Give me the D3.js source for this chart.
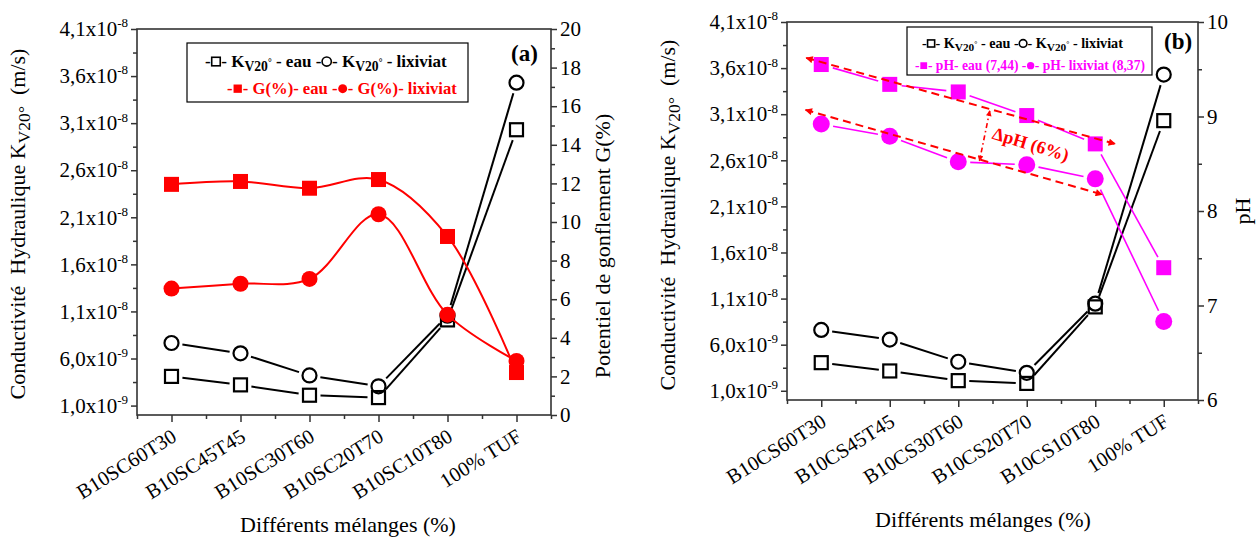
<!DOCTYPE html>
<html><head><meta charset="utf-8">
<script src="https://cdn.jsdelivr.net/npm/d3@7"></script>
<style>
body{margin:0;background:#fff}
svg{display:block}
svg text{font-family:'Liberation Serif','Times New Roman',Times,serif;white-space:pre}
</style>
</head><body>
<svg id="c" width="1260" height="539"></svg>
<script>
// ---------------- DATA ----------------
const categoriesA = ["B10SC60T30","B10SC45T45","B10SC30T60","B10SC20T70","B10SC10T80","100% TUF"];
const categoriesB = ["B10CS60T30","B10CS45T45","B10CS30T60","B10CS20T70","B10CS10T80","100% TUF"];
// hydraulic conductivity, in units of 1e-9 m/s
const kEauA = [4.1, 3.2, 2.1, 1.85, 10.1, 30.3];
const kLixA = [7.65, 6.55, 4.2, 3.05, 10.55, 35.3];
const kEauB = [4.05, 3.15, 2.1, 1.8, 10.1, 30.3];
const kLixB = [7.6, 6.55, 4.15, 2.95, 10.45, 35.3];
// swelling potential G (%)
const gEau = [11.95, 12.1, 11.75, 12.2, 9.25, 2.2];
const gLix = [6.55, 6.8, 7.05, 10.4, 5.2, 2.8];
// pH
const phEau = [9.55, 9.34, 9.26, 9.01, 8.71, 7.40];
const phLix = [8.92, 8.79, 8.52, 8.49, 8.34, 6.83];
// axis ticks
const kTicks = [1, 6, 11, 16, 21, 26, 31, 36, 41];
const kTickBase = ["1,0x10","6,0x10","1,1x10","1,6x10","2,1x10","2,6x10","3,1x10","3,6x10","4,1x10"];
const kTickExp = ["-9","-9","-8","-8","-8","-8","-8","-8","-8"];
const kMinor = [3.5, 8.5, 13.5, 18.5, 23.5, 28.5, 33.5, 38.5];
const gTicks = [0,2,4,6,8,10,12,14,16,18,20];
const gMinor = [1,3,5,7,9,11,13,15,17,19];
const phTicks = [6,7,8,9,10];
const phMinor = [6.5,7.5,8.5,9.5];
const xMajor = [0,1,2,3,4,5];
const xMinor = [-0.5,0.5,1.5,2.5,3.5,4.5,5.5];
// annotation (panel b) in data units: [category, pH]
const arrowUpper = [[-0.22, 9.62],[4.29, 8.71]];
const arrowLower = [[-0.23, 9.07],[4.10, 8.175]];
const arrowDelta = [[2.46, 9.06],[2.31, 8.53]];
const deltaLabelPos = [3.06, 8.71];

// ---------------- DRAW ----------------
const svg = d3.select("#c");
const AX = "#333";
const RED = "#ff0000", PINK = "#ff00ff";

const defs = svg.append("defs");
defs.append("marker").attr("id","ah").attr("viewBox","0 0 10 10").attr("refX",9).attr("refY",5)
  .attr("markerWidth",4.5).attr("markerHeight",3.6).attr("orient","auto-start-reverse")
  .attr("markerUnits","strokeWidth")
  .append("path").attr("d","M0,0 L10,5 L0,10 Z").attr("fill",RED);

function rich(t, spans, size){
  let shift = 0;
  spans.forEach(sp=>{
    let target = 0, fs = size;
    if (sp.sub){ target = 0.22*size; fs = 0.8*size; }
    if (sp.sup){ target = -0.42*size; fs = 0.62*size; }
    if (sp.supsub){ target = -0.05*size; fs = 0.55*size; }
    const ts = t.append("tspan").text(sp.s).attr("font-size", fs);
    if (target !== shift){ ts.attr("dy", target - shift); shift = target; }
  });
  return t;
}

function gapSegments(pts, gap){
  const segs = [];
  for (let i=0;i<pts.length-1;i++){
    const [x1,y1] = pts[i], [x2,y2] = pts[i+1];
    const dx = x2-x1, dy = y2-y1, L = Math.hypot(dx,dy);
    if (L <= 2*gap) continue;
    const ux = dx/L, uy = dy/L;
    segs.push([x1+ux*gap, y1+uy*gap, x2-ux*gap, y2-uy*gap]);
  }
  return segs;
}

function drawMarkers(g, pts, shape, size, fill, stroke, sw){
  pts.forEach(([x,y])=>{
    if (shape==="square"){
      g.append("rect").attr("x",x-size/2).attr("y",y-size/2).attr("width",size).attr("height",size)
        .attr("fill",fill).attr("stroke",stroke).attr("stroke-width",sw);
    } else {
      g.append("circle").attr("cx",x).attr("cy",y).attr("r",size/2)
        .attr("fill",fill).attr("stroke",stroke).attr("stroke-width",sw);
    }
  });
}

function drawGapLine(g, pts, color, w, gap){
  gapSegments(pts, gap).forEach(s=>{
    g.append("line").attr("x1",s[0]).attr("y1",s[1]).attr("x2",s[2]).attr("y2",s[3])
      .attr("stroke",color).attr("stroke-width",w);
  });
}

function legendRow(g, x, y, size, color, parts){
  const row = g.append("g");
  let cx = x;
  parts.forEach(p=>{
    if (p.sym){
      const w = size*0.62;
      const cy = y - size*0.32;
      if (p.sym==="square"){
        const s = size*0.5;
        row.append("rect").attr("x",cx+w/2-s/2).attr("y",cy-s/2).attr("width",s).attr("height",s)
          .attr("fill",p.fill?color:"none").attr("stroke",color).attr("stroke-width",p.fill?0:1.6);
      } else {
        row.append("circle").attr("cx",cx+w/2).attr("cy",cy).attr("r",size*0.27)
          .attr("fill",p.fill?color:"none").attr("stroke",color).attr("stroke-width",p.fill?0:1.6);
      }
      cx += w;
    } else {
      const t = row.append("text").attr("x",cx).attr("y",y).attr("fill",color)
        .attr("font-weight","bold").attr("font-size",size);
      rich(t, p.spans, size);
      cx += t.node().getComputedTextLength();
    }
  });
  return {row, w: cx - x};
}
// draw a legend row, then re-draw it with the font size that gives the wanted width
function legend(g, x, y, width, size, color, parts){
  const first = legendRow(g, x, y, size, color, parts);
  first.row.remove();
  const s2 = size * width / first.w;
  legendRow(g, x, y, s2, color, parts);
}

function panel(cfg){
  const g = svg.append("g");
  const x = d3.scaleLinear().domain([-0.5,5.5]).range([cfg.x0,cfg.x1]);
  const yK = d3.scaleLinear().domain([0,41]).range([cfg.y1,cfg.y0]);
  const yR = d3.scaleLinear().domain(cfg.rDomain).range([cfg.y1,cfg.y0]);

  // bottom axis
  const bx = g.append("g").attr("transform",`translate(0,${cfg.y1})`);
  bx.call(d3.axisBottom(x).tickValues(xMinor).tickSize(4).tickSizeOuter(0).tickFormat(""));
  const bxM = g.append("g").attr("transform",`translate(0,${cfg.y1})`);
  bxM.call(d3.axisBottom(x).tickValues(xMajor).tickSize(7).tickSizeOuter(0).tickFormat(i=>cfg.cats[i]));
  bxM.selectAll(".tick text").attr("font-size",20.5)
    .attr("fill","#000").attr("text-anchor","end").attr("dy",null)
    .attr("transform","translate(6,25) rotate(-32)").attr("y",0).attr("x",0);

  // left K axis
  const lm = g.append("g").attr("transform",`translate(${cfg.x0},0)`);
  lm.call(d3.axisLeft(yK).tickValues(kMinor).tickSize(4).tickSizeOuter(0).tickFormat(""));
  const la = g.append("g").attr("transform",`translate(${cfg.x0},0)`);
  la.call(d3.axisLeft(yK).tickValues(kTicks).tickSize(6).tickSizeOuter(0).tickPadding(3).tickFormat(""));
  la.selectAll(".tick text").each(function(d,i){
    const t = d3.select(this).attr("font-size",21).attr("fill","#000");
    rich(t,[{s:kTickBase[i]},{s:kTickExp[i],sup:true}],21);
  });

  // right axis
  const rm = g.append("g").attr("transform",`translate(${cfg.x1},0)`);
  rm.call(d3.axisRight(yR).tickValues(cfg.rMinor).tickSize(4).tickSizeOuter(0).tickFormat(""));
  const ra = g.append("g").attr("transform",`translate(${cfg.x1},0)`);
  ra.call(d3.axisRight(yR).tickValues(cfg.rTicks).tickSize(6).tickSizeOuter(0).tickPadding(3).tickFormat(d3.format("d")));
  ra.selectAll(".tick text").attr("font-size",21).attr("fill","#000");

  g.selectAll(".domain").remove();
  g.selectAll(".tick line").attr("stroke",AX).attr("stroke-width",1.5);
  g.append("rect").attr("x",cfg.x0).attr("y",cfg.y0).attr("width",cfg.x1-cfg.x0).attr("height",cfg.y1-cfg.y0)
    .attr("fill","none").attr("stroke",AX).attr("stroke-width",1.6);

  // titles
  const tl = g.append("text").attr("transform",`translate(${cfg.ltX},${cfg.ltY}) rotate(-90)`)
    .attr("text-anchor","middle").attr("font-size",22);
  rich(tl,[{s:"Conductivité  Hydraulique K"},{s:"V20°",sub:true},{s:"  (m/s)"}],22);
  g.append("text").attr("transform",`translate(${cfg.rtX},${cfg.rtY}) rotate(-90)`)
    .attr("text-anchor","middle").attr("font-size",22).text(cfg.rTitle);
  g.append("text").attr("x",cfg.xtX).attr("y",cfg.xtY).attr("text-anchor","middle").attr("font-size",22)
    .text("Différents mélanges (%)");
  g.append("text").attr("x",cfg.tagX).attr("y",cfg.tagY).attr("font-size",23).attr("font-weight","bold").text(cfg.tag);

  return {g,x,yK,yR};
}

// ---------- Panel A ----------
const A = panel({x0:137,x1:551,y0:29,y1:415,cats:categoriesA,rDomain:[0,20],rTicks:gTicks,rMinor:gMinor,
  ltX:25,ltY:224,rtX:610,rtY:246,rTitle:"Potentiel de gonflement G(%)",xtX:348,xtY:532,tag:"(a)",tagX:511,tagY:61});
{
  const {g,x,yK,yR} = A;
  const pE = kEauA.map((v,i)=>[x(i),yK(v)]);
  const pL = kLixA.map((v,i)=>[x(i),yK(v)]);
  drawGapLine(g,pE,"#000",2,11);
  drawGapLine(g,pL,"#000",2,11);
  drawMarkers(g,pE,"square",13,"none","#000",2.2);
  drawMarkers(g,pL,"circle",14,"none","#000",2.2);
  const line = d3.line().curve(d3.curveCatmullRom.alpha(0.5));
  const gE = gEau.map((v,i)=>[x(i),yR(v)]);
  const gL = gLix.map((v,i)=>[x(i),yR(v)]);
  g.append("path").attr("d",line(gE)).attr("fill","none").attr("stroke",RED).attr("stroke-width",2);
  g.append("path").attr("d",line(gL)).attr("fill","none").attr("stroke",RED).attr("stroke-width",2);
  drawMarkers(g,gE,"square",15,RED,"none",0);
  drawMarkers(g,gL,"circle",16,RED,"none",0);

  g.append("rect").attr("x",187).attr("y",43).attr("width",281).attr("height",59)
    .attr("fill","#fff").attr("stroke","#000").attr("stroke-width",1.2);
  legend(g,205,67,242,17,"#000",[
    {spans:[{s:"-"}]},{sym:"square"},{spans:[{s:"- K"},{s:"V20",sub:true},{s:"°",supsub:true},{s:" - eau "}]},
    {spans:[{s:"-"}]},{sym:"circle"},{spans:[{s:"- K"},{s:"V20",sub:true},{s:"°",supsub:true},{s:" - lixiviat"}]}]);
  legend(g,227,94,230,17,RED,[
    {spans:[{s:"-"}]},{sym:"square",fill:true},{spans:[{s:"- G(%)- eau "}]},
    {spans:[{s:"-"}]},{sym:"circle",fill:true},{spans:[{s:"- G(%)- lixiviat"}]}]);
}

// ---------- Panel B ----------
const B = panel({x0:787,x1:1198,y0:22,y1:400,cats:categoriesB,rDomain:[6,10],rTicks:phTicks,rMinor:phMinor,
  ltX:675,ltY:215,rtX:1250,rtY:211,rTitle:"pH",xtX:983,xtY:527,tag:"(b)",tagX:1164,tagY:49});
{
  const {g,x,yK,yR} = B;
  const pE = kEauB.map((v,i)=>[x(i),yK(v)]);
  const pL = kLixB.map((v,i)=>[x(i),yK(v)]);
  drawGapLine(g,pE,"#000",2,11);
  drawGapLine(g,pL,"#000",2,11);
  drawMarkers(g,pE,"square",13,"none","#000",2.2);
  drawMarkers(g,pL,"circle",14,"none","#000",2.2);

  const hE = phEau.map((v,i)=>[x(i),yR(v)]);
  const hL = phLix.map((v,i)=>[x(i),yR(v)]);
  drawGapLine(g,hE,PINK,1.6,12);
  drawGapLine(g,hL,PINK,1.6,12);
  drawMarkers(g,hE,"square",15,PINK,"none",0);
  drawMarkers(g,hL,"circle",17,PINK,"none",0);

  const toPx = p=>[x(p[0]),yR(p[1])];
  [arrowUpper,arrowLower].forEach(a=>{
    const [p1,p2] = a.map(toPx);
    g.append("line").attr("x1",p1[0]).attr("y1",p1[1]).attr("x2",p2[0]).attr("y2",p2[1])
      .attr("stroke",RED).attr("stroke-width",2).attr("stroke-dasharray","8,5")
      .attr("marker-start","url(#ah)").attr("marker-end","url(#ah)");
  });
  {
    const [p1,p2] = arrowDelta.map(toPx);
    g.append("line").attr("x1",p1[0]).attr("y1",p1[1]).attr("x2",p2[0]).attr("y2",p2[1])
      .attr("stroke",RED).attr("stroke-width",1.6).attr("stroke-dasharray","5,3,1.5,3")
      .attr("marker-start","url(#ah)").attr("marker-end","url(#ah)");
  }
  const lp = toPx(deltaLabelPos);
  g.append("text").attr("transform",`translate(${lp[0]},${lp[1]}) rotate(17)`).attr("text-anchor","middle")
    .attr("dy","0.35em").attr("font-size",18).attr("font-weight","bold").attr("fill",RED).text("ΔpH (6%)");

  g.append("rect").attr("x",907).attr("y",27).attr("width",245).attr("height",48)
    .attr("fill","#fff").attr("stroke","#000").attr("stroke-width",1.2);
  legend(g,922,48,201,15,"#000",[
    {spans:[{s:"-"}]},{sym:"square"},{spans:[{s:"- K"},{s:"V20",sub:true},{s:"°",supsub:true},{s:" - eau "}]},
    {spans:[{s:"-"}]},{sym:"circle"},{spans:[{s:"- K"},{s:"V20",sub:true},{s:"°",supsub:true},{s:" - lixiviat"}]}]);
  legend(g,915,70,230,15,PINK,[
    {spans:[{s:"-"}]},{sym:"square",fill:true},{spans:[{s:"- pH- eau (7,44) "}]},
    {spans:[{s:"-"}]},{sym:"circle",fill:true},{spans:[{s:"- pH- lixiviat (8,37)"}]}]);
}
</script>
</body></html>
